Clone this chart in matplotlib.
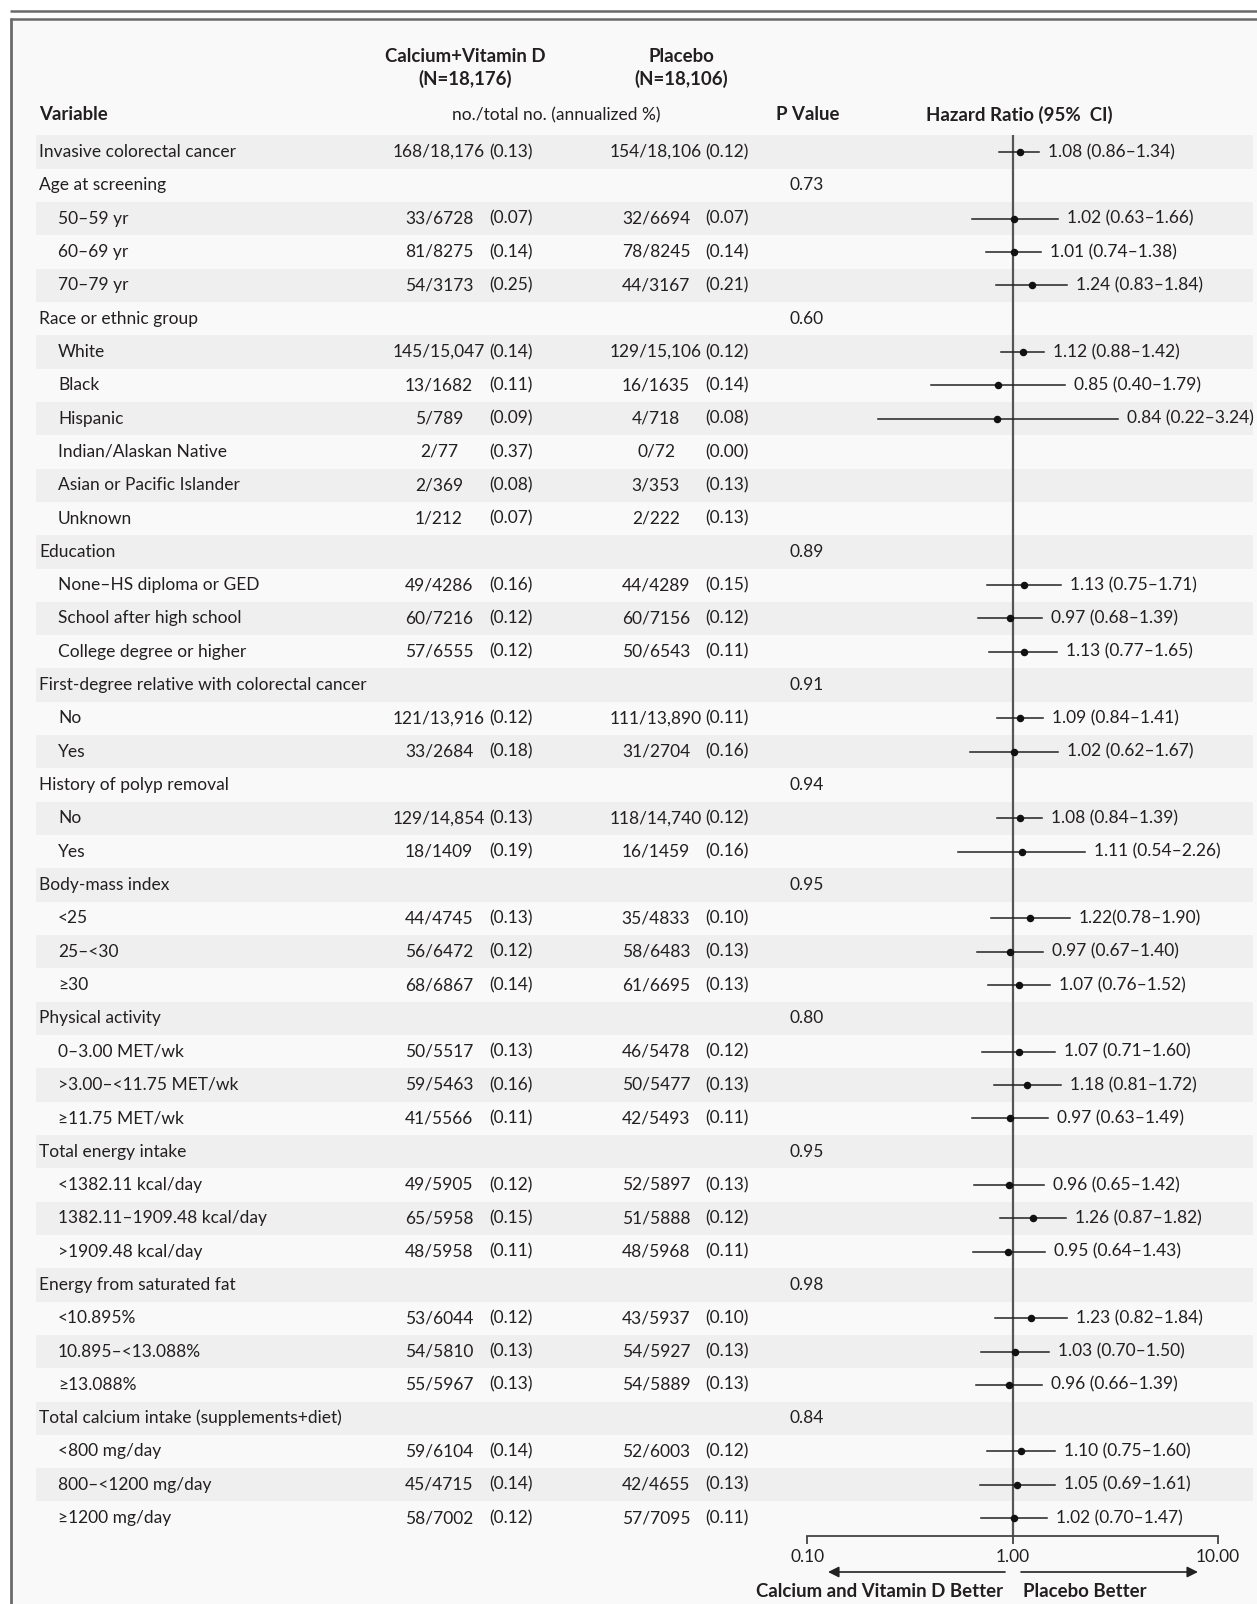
import numpy as np
import matplotlib
matplotlib.use("Agg")
import matplotlib.pyplot as plt
from matplotlib.patches import Rectangle

plt.rcParams['font.family'] = ['Lato', 'DejaVu Sans']

# ---- data ----
labels = [
    "Invasive colorectal cancer", "Age at screening", "50\u201359 yr", "60\u201369 yr", "70\u201379 yr",
    "Race or ethnic group", "White", "Black", "Hispanic", "Indian/Alaskan Native",
    "Asian or Pacific Islander", "Unknown", "Education", "None\u2013HS diploma or GED",
    "School after high school", "College degree or higher",
    "First-degree relative with colorectal cancer", "No", "Yes",
    "History of polyp removal", "No", "Yes", "Body-mass index", "<25", "25\u2013<30", "\u226530",
    "Physical activity", "0\u20133.00 MET/wk", ">3.00\u2013<11.75 MET/wk", "\u226511.75 MET/wk",
    "Total energy intake", "<1382.11 kcal/day", "1382.11\u20131909.48 kcal/day", ">1909.48 kcal/day",
    "Energy from saturated fat", "<10.895%", "10.895\u2013<13.088%", "\u226513.088%",
    "Total calcium intake (supplements+diet)", "<800 mg/day", "800\u2013<1200 mg/day", "\u22651200 mg/day",
]
indented = [False, False, True, True, True, False, True, True, True, True, True, True,
            False, True, True, True, False, True, True, False, True, True, False, True, True, True,
            False, True, True, True, False, True, True, True, False, True, True, True,
            False, True, True, True]

cv_events = [168, None, 33, 81, 54, None, 145, 13, 5, 2, 2, 1, None, 49, 60, 57, None, 121, 33,
             None, 129, 18, None, 44, 56, 68, None, 50, 59, 41, None, 49, 65, 48, None, 53, 54, 55,
             None, 59, 45, 58]
cv_totals = [18176, None, 6728, 8275, 3173, None, 15047, 1682, 789, 77, 369, 212, None, 4286, 7216,
             6555, None, 13916, 2684, None, 14854, 1409, None, 4745, 6472, 6867, None, 5517, 5463,
             5566, None, 5905, 5958, 5958, None, 6044, 5810, 5967, None, 6104, 4715, 7002]
cv_pct = [0.13, None, 0.07, 0.14, 0.25, None, 0.14, 0.11, 0.09, 0.37, 0.08, 0.07, None, 0.16, 0.12,
          0.12, None, 0.12, 0.18, None, 0.13, 0.19, None, 0.13, 0.12, 0.14, None, 0.13, 0.16, 0.11,
          None, 0.12, 0.15, 0.11, None, 0.12, 0.13, 0.13, None, 0.14, 0.14, 0.12]

pl_events = [154, None, 32, 78, 44, None, 129, 16, 4, 0, 3, 2, None, 44, 60, 50, None, 111, 31,
             None, 118, 16, None, 35, 58, 61, None, 46, 50, 42, None, 52, 51, 48, None, 43, 54, 54,
             None, 52, 42, 57]
pl_totals = [18106, None, 6694, 8245, 3167, None, 15106, 1635, 718, 72, 353, 222, None, 4289, 7156,
             6543, None, 13890, 2704, None, 14740, 1459, None, 4833, 6483, 6695, None, 5478, 5477,
             5493, None, 5897, 5888, 5968, None, 5937, 5927, 5889, None, 6003, 4655, 7095]
pl_pct = [0.12, None, 0.07, 0.14, 0.21, None, 0.12, 0.14, 0.08, 0.00, 0.13, 0.13, None, 0.15, 0.12,
          0.11, None, 0.11, 0.16, None, 0.12, 0.16, None, 0.10, 0.13, 0.13, None, 0.12, 0.13, 0.11,
          None, 0.13, 0.12, 0.11, None, 0.10, 0.13, 0.13, None, 0.12, 0.13, 0.11]

p_values = {1: "0.73", 5: "0.60", 12: "0.89", 16: "0.91", 19: "0.94", 22: "0.95",
            26: "0.80", 30: "0.95", 34: "0.98", 38: "0.84"}

hr = [1.08, None, 1.02, 1.01, 1.24, None, 1.12, 0.85, 0.84, None, None, None, None, 1.13, 0.97,
      1.13, None, 1.09, 1.02, None, 1.08, 1.11, None, 1.22, 0.97, 1.07, None, 1.07, 1.18, 0.97,
      None, 0.96, 1.26, 0.95, None, 1.23, 1.03, 0.96, None, 1.10, 1.05, 1.02]
hr_lo = [0.86, None, 0.63, 0.74, 0.83, None, 0.88, 0.40, 0.22, None, None, None, None, 0.75, 0.68,
         0.77, None, 0.84, 0.62, None, 0.84, 0.54, None, 0.78, 0.67, 0.76, None, 0.71, 0.81, 0.63,
         None, 0.65, 0.87, 0.64, None, 0.82, 0.70, 0.66, None, 0.75, 0.69, 0.70]
hr_hi = [1.34, None, 1.66, 1.38, 1.84, None, 1.42, 1.79, 3.24, None, None, None, None, 1.71, 1.39,
         1.65, None, 1.41, 1.67, None, 1.39, 2.26, None, 1.90, 1.40, 1.52, None, 1.60, 1.72, 1.49,
         None, 1.42, 1.82, 1.43, None, 1.84, 1.50, 1.39, None, 1.60, 1.61, 1.47]
no_space_rows = {23}  # printed as "1.22(0.78-1.90)" in the original

x_ticks = [0.1, 1.0, 10.0]
x_tick_labels = ["0.10", "1.00", "10.00"]

# ---- layout (pixels) ----
W, H = 1257, 1604
ROW0, ROWH = 152.0, 33.32
TXT = '#231f20'
FS = 12.5     # body text
FSB = 13.4    # bold headers


def row(py):
    return (py - ROW0) / ROWH


def count_str(n, tot):
    t = f"{tot:,}" if tot >= 10000 else str(tot)
    return f"{n}/{t}"


fig = plt.figure(figsize=(W / 100, H / 100), dpi=100, facecolor='white')
tab = fig.add_axes([0, 0, 1, 1])
tab.set_xlim(0, W)
tab.set_ylim(row(H), row(0))
tab.axis('off')

# frame and background
tab.add_patch(Rectangle((11, row(19)), W, row(H + 10) - row(19), facecolor='#f9f9f9',
                        edgecolor='none', zorder=0))
tab.plot([10, W], [row(11.5), row(11.5)], color='#6b6b6b', lw=1.8, solid_capstyle='butt')
tab.plot([10, W], [row(19.5), row(19.5)], color='#6b6b6b', lw=1.8, solid_capstyle='butt')
tab.plot([11, 11], [row(18.5), row(H)], color='#6b6b6b', lw=2.0, solid_capstyle='butt')

# row stripes
for i in range(len(labels)):
    if i % 2 == 0:
        tab.add_patch(Rectangle((36, i - 0.5), 1253 - 36, 1, facecolor='#efefef',
                                edgecolor='none', zorder=0.5))

# headers
hdr = dict(va='center', fontsize=FSB, fontweight='bold', color=TXT)
tab.text(39, row(115), "Variable", ha='left', **hdr)
tab.text(465, row(57), "Calcium+Vitamin D", ha='center', **hdr)
tab.text(465, row(79), "(N=18,176)", ha='center', **hdr)
tab.text(681, row(57), "Placebo", ha='center', **hdr)
tab.text(681, row(79), "(N=18,106)", ha='center', **hdr)
tab.text(556, row(115), "no./total no. (annualized %)", ha='center', va='center',
         fontsize=FS, color=TXT)
tab.text(808, row(115), "P Value", ha='center', **hdr)
tab.text(1019, row(115), "Hazard Ratio (95%  CI)", ha='center', **hdr)

# table body
for i, lab in enumerate(labels):
    tab.text(58 if indented[i] else 39, i, lab, ha='left', va='center', fontsize=FS, color=TXT)
    if cv_events[i] is not None:
        tab.text(439, i, count_str(cv_events[i], cv_totals[i]), ha='center', va='center',
                 fontsize=FS, color=TXT)
        tab.text(489, i, f"({cv_pct[i]:.2f})", ha='left', va='center', fontsize=FS, color=TXT)
        tab.text(656, i, count_str(pl_events[i], pl_totals[i]), ha='center', va='center',
                 fontsize=FS, color=TXT)
        tab.text(705, i, f"({pl_pct[i]:.2f})", ha='left', va='center', fontsize=FS, color=TXT)
    if i in p_values:
        tab.text(807, i, p_values[i], ha='center', va='center', fontsize=FS, color=TXT)

# direction arrows and captions
ya = row(1572)
tab.annotate('', xy=(828, ya), xytext=(1005, ya),
             arrowprops=dict(arrowstyle='-|>', color='#222222', lw=1.2, mutation_scale=16,
                             shrinkA=0, shrinkB=0))
tab.annotate('', xy=(1198, ya), xytext=(1021, ya),
             arrowprops=dict(arrowstyle='-|>', color='#222222', lw=1.2, mutation_scale=16,
                             shrinkA=0, shrinkB=0))
tab.text(1003, row(1591), "Calcium and Vitamin D Better", ha='right', **hdr)
tab.text(1023, row(1591), "Placebo Better", ha='left', **hdr)

# ---- forest plot ----
decade = 205.3
x_one = 1012.7
left_px, right_px = x_one - decade, x_one + decade
top_px, bot_px = 135, 1536
fx = fig.add_axes([left_px / W, 1 - bot_px / H, (right_px - left_px) / W, (bot_px - top_px) / H])
fx.set_facecolor('none')
fx.set_xscale('log')
fx.set_xlim(0.1, 10)
fx.set_ylim(row(bot_px), row(top_px))
for s in ['top', 'right', 'left']:
    fx.spines[s].set_visible(False)
fx.spines['bottom'].set_color('#444444')
fx.spines['bottom'].set_linewidth(1.3)
fx.set_yticks([])
fx.set_xticks(x_ticks)
fx.set_xticklabels(x_tick_labels)
fx.xaxis.set_minor_locator(matplotlib.ticker.NullLocator())
fx.tick_params(axis='x', direction='out', length=6, width=1.3, color='#444444', pad=3,
               labelsize=FS, labelcolor=TXT)
fx.axvline(1.0, color='#555555', lw=1.6, zorder=1)

for i in range(len(labels)):
    if hr[i] is None:
        continue
    fx.plot([hr_lo[i], hr_hi[i]], [i, i], color='#222222', lw=1.1, zorder=2)
    fx.plot([hr[i]], [i], 'o', ms=4.4, color='#111111', zorder=3)
    sep = "" if i in no_space_rows else " "
    fx.annotate(f"{hr[i]:.2f}{sep}({hr_lo[i]:.2f}\u2013{hr_hi[i]:.2f})", xy=(hr_hi[i], i),
                xytext=(9, 0), textcoords='offset pixels', ha='left', va='center',
                fontsize=FS, color=TXT, annotation_clip=False)

fig.savefig('out.png', dpi=100, facecolor='white')
